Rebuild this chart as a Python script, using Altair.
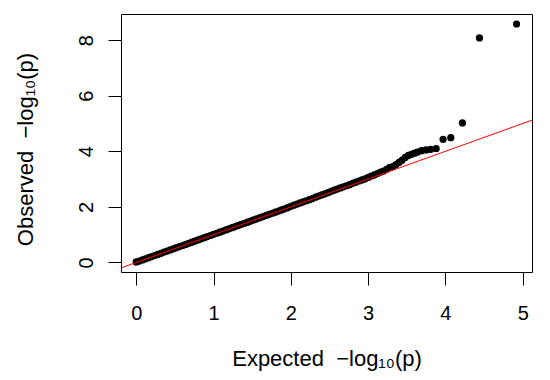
import altair as alt
import pandas as pd

# Expected -log10(p) (x) and observed -log10(p) (y)
band_x = [0.00, 0.04, 0.08, 0.12, 0.16, 0.20, 0.24, 0.28, 0.32, 0.36, 0.40, 0.44, 0.48, 0.52,
          0.56, 0.60, 0.64, 0.68, 0.72, 0.76, 0.80, 0.84, 0.88, 0.92, 0.96, 1.00, 1.04, 1.08,
          1.12, 1.16, 1.20, 1.24, 1.28, 1.32, 1.36, 1.40, 1.44, 1.48, 1.52, 1.56, 1.60, 1.64,
          1.68, 1.72, 1.76, 1.80, 1.84, 1.88, 1.92, 1.96, 2.00, 2.04, 2.08, 2.12, 2.16, 2.20,
          2.24, 2.28, 2.32, 2.36, 2.40, 2.44, 2.48, 2.52, 2.56, 2.60, 2.64, 2.68, 2.72, 2.76,
          2.80, 2.84, 2.88, 2.92, 2.96, 3.00, 3.04, 3.08, 3.12, 3.16, 3.20, 3.24, 3.28]
band_y = [0.02, 0.05, 0.09, 0.13, 0.17, 0.21, 0.25, 0.29, 0.33, 0.37, 0.41, 0.45, 0.49, 0.53,
          0.57, 0.61, 0.65, 0.69, 0.73, 0.77, 0.81, 0.85, 0.89, 0.93, 0.97, 1.01, 1.05, 1.09,
          1.13, 1.17, 1.21, 1.25, 1.29, 1.33, 1.37, 1.41, 1.45, 1.49, 1.53, 1.57, 1.61, 1.65,
          1.69, 1.73, 1.77, 1.81, 1.85, 1.89, 1.93, 1.97, 2.02, 2.06, 2.10, 2.14, 2.18, 2.22,
          2.26, 2.30, 2.35, 2.39, 2.43, 2.47, 2.51, 2.56, 2.60, 2.64, 2.68, 2.72, 2.76, 2.80,
          2.85, 2.89, 2.93, 2.97, 3.01, 3.06, 3.11, 3.15, 3.20, 3.25, 3.29, 3.35, 3.42]
tail_x = [3.32, 3.36, 3.40, 3.44, 3.48, 3.52, 3.56, 3.60, 3.64, 3.69, 3.75, 3.81, 3.88,
          3.97, 4.07, 4.22, 4.44, 4.92]
tail_y = [3.45, 3.52, 3.60, 3.68, 3.78, 3.85, 3.89, 3.93, 3.97, 4.02, 4.05, 4.07, 4.10,
          4.43, 4.49, 5.02, 8.08, 8.58]

# reference line y = x
line_x = [-1, 6]
line_y = [-1, 6]

x_ticks = [0, 1, 2, 3, 4, 5]
y_ticks = [0, 2, 4, 6, 8]

pts = pd.DataFrame({"x": band_x + tail_x, "y": band_y + tail_y})
ref = pd.DataFrame({"x": line_x, "y": line_y})

FONT = "Liberation Sans"

xscale = alt.Scale(domain=[-0.197, 5.12], nice=False, zero=False)
yscale = alt.Scale(domain=[-0.344, 8.94], nice=False, zero=False)

xaxis = alt.Axis(
    values=x_ticks, format="d", title="Expected\u00a0\u00a0\u2212log\u2081\u2080(p)", grid=False, domain=False,
    tickSize=13, tickColor="black", tickWidth=1,
    labelFont=FONT, labelFontSize=20, labelColor="black", labelBaseline="alphabetic",
    labelPadding=34, labelFlush=False,
    titleFont=FONT, titleFontSize=22, titleFontWeight="normal", titleColor="black",
    titleBaseline="alphabetic", titleY=93, titleX=205.5, titleAlign="center",
)
yaxis = alt.Axis(
    values=y_ticks, format="d", title="Observed\u00a0\u00a0\u2212log\u2081\u2080(p)", grid=False, domain=False,
    tickSize=13, tickColor="black", tickWidth=1,
    labelFont=FONT, labelFontSize=20, labelColor="black", labelAngle=270,
    labelAlign="center", labelBaseline="alphabetic", labelPadding=16, labelFlush=False,
    titleFont=FONT, titleFontSize=22, titleFontWeight="normal", titleColor="black",
    titleAngle=270, titleBaseline="alphabetic", titleAlign="center", titleX=-89, titleY=135,
)

points = alt.Chart(pts).mark_circle(size=52, color="black", opacity=1).encode(
    x=alt.X("x:Q", scale=xscale, axis=xaxis),
    y=alt.Y("y:Q", scale=yscale, axis=yaxis),
)
line = alt.Chart(ref).mark_line(color="#ff0000", strokeWidth=1, clip=True).encode(
    x=alt.X("x:Q", scale=xscale),
    y=alt.Y("y:Q", scale=yscale),
)

chart = alt.layer(points, line).properties(
    width=411, height=258,
    autosize=alt.AutoSizeParams(type="none"),
    padding={"left": 113, "top": 6, "right": 10, "bottom": 100},
    background="white",
).configure_view(stroke="black", strokeWidth=1)

chart.save("out.html", embed_options={"renderer": "svg", "actions": False})
